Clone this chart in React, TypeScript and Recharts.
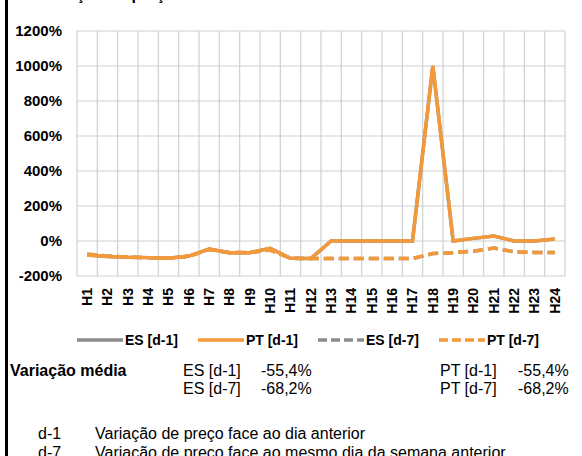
import { CartesianGrid, Line, LineChart, XAxis, YAxis } from "recharts";

const hours = [
  "H1", "H2", "H3", "H4", "H5", "H6", "H7", "H8", "H9", "H10", "H11", "H12",
  "H13", "H14", "H15", "H16", "H17", "H18", "H19", "H20", "H21", "H22", "H23", "H24",
];

// % variation vs previous day (d-1) and vs same weekday last week (d-7)
const esD1 = [-80, -88, -93, -95, -99, -86, -46, -67, -67, -42, -99, -100, 0, 0, 0, 0, 0, 1000, 0, 15, 28, 0, 0, 12];
const ptD1 = [-80, -88, -93, -95, -99, -86, -46, -67, -67, -42, -99, -100, 0, 0, 0, 0, 0, 1000, 0, 15, 28, 0, 0, 12];
const esD7 = [-75, -85, -93, -95, -99, -88, -48, -67, -65, -52, -99, -100, -100, -100, -100, -100, -100, -72, -67, -58, -40, -62, -65, -65];
const ptD7 = [-75, -85, -93, -95, -99, -88, -48, -67, -65, -52, -99, -100, -100, -100, -100, -100, -100, -72, -67, -58, -40, -62, -65, -65];

const yTicks = [-200, 0, 200, 400, 600, 800, 1000, 1200];

const legendItems = [
  { name: "ES [d-1]", color: "#8C8C8C", dashed: false },
  { name: "PT [d-1]", color: "#F4993A", dashed: false },
  { name: "ES [d-7]", color: "#8C8C8C", dashed: true },
  { name: "PT [d-7]", color: "#F4993A", dashed: true },
];

const averages = [
  { label: "ES [d-1]", value: "-55,4%" },
  { label: "ES [d-7]", value: "-68,2%" },
  { label: "PT [d-1]", value: "-55,4%" },
  { label: "PT [d-7]", value: "-68,2%" },
];

const notes = [
  { key: "d-1", text: "Variação de preço face ao dia anterior" },
  { key: "d-7", text: "Variação de preço face ao mesmo dia da semana anterior" },
];

const data = hours.map((hour, i) => ({
  hour,
  esD1: esD1[i],
  ptD1: ptD1[i],
  esD7: esD7[i],
  ptD7: ptD7[i],
}));

const FONT = '"Liberation Sans", Arial, sans-serif';
const ORANGE = "#F4993A";
const GRAY = "#8C8C8C";
const DASH = "10 5";

const W = 582;
const PLOT_LEFT = 77;
const PLOT_RIGHT = 17;
const BAND_PAD = (W - PLOT_LEFT - PLOT_RIGHT) / hours.length / 2;

function HourTick({ x, y, payload }: any) {
  return (
    <text
      x={x}
      y={y}
      transform={`rotate(-90 ${x} ${y})`}
      textAnchor="end"
      dy="0.35em"
      fontFamily={FONT}
      fontSize={14}
      fontWeight="bold"
      fill="#000"
    >
      {payload.value}
    </text>
  );
}

// grid lines sit between categories, like Excel's category axis
const boundaryLines = ({ offset }: any) =>
  Array.from({ length: hours.length + 1 }, (_, i) => offset.left + (i * offset.width) / hours.length);

export default function App() {
  const text = { fontFamily: FONT, color: "#000", position: "absolute" as const, whiteSpace: "nowrap" as const };

  return (
    <div style={{ position: "fixed", left: 0, top: 0, width: W, height: 456, overflow: "hidden", background: "#fff" }}>
      <div style={{ ...text, left: 38, top: -13, fontSize: 16, lineHeight: "16px", fontWeight: "bold" }}>
        Variação de preço
      </div>
      <div style={{ position: "absolute", left: 5, top: 0, width: 3, height: 456, background: "#000" }} />

      <LineChart
        width={W}
        height={330}
        data={data}
        margin={{ top: 31, right: PLOT_RIGHT, bottom: 0, left: 0 }}
        style={{ position: "absolute", left: 0, top: 0 }}
      >
        <CartesianGrid stroke="#D0D0D0" strokeWidth={1.2} verticalCoordinatesGenerator={boundaryLines} />
        <XAxis
          dataKey="hour"
          interval={0}
          height={54}
          padding={{ left: BAND_PAD, right: BAND_PAD }}
          axisLine={false}
          tickLine={false}
          tickSize={0}
          tickMargin={12}
          tick={<HourTick />}
        />
        <YAxis
          width={PLOT_LEFT}
          domain={[-200, 1200]}
          ticks={yTicks}
          interval={0}
          axisLine={false}
          tickLine={false}
          tickSize={0}
          tickMargin={15}
          tickFormatter={(v) => `${v}%`}
          tick={{ fontFamily: FONT, fontSize: 15, fontWeight: "bold", fill: "#000" }}
        />
        <Line dataKey="esD1" stroke={GRAY} strokeWidth={3.5} dot={false} isAnimationActive={false} />
        <Line dataKey="esD7" stroke={GRAY} strokeWidth={3.5} strokeDasharray={DASH} dot={false} isAnimationActive={false} />
        <Line dataKey="ptD7" stroke={ORANGE} strokeWidth={3.5} strokeDasharray={DASH} dot={false} isAnimationActive={false} />
        <Line dataKey="ptD1" stroke={ORANGE} strokeWidth={3.5} dot={false} isAnimationActive={false} />
      </LineChart>

      {/* legend */}
      <div style={{ position: "absolute", left: 77, top: 331, display: "flex", alignItems: "center", gap: 20 }}>
        {legendItems.map((it) => (
          <div key={it.name} style={{ display: "flex", alignItems: "center" }}>
            <svg width={46} height={18}>
              <line
                x1={0}
                y1={9}
                x2={46}
                y2={9}
                stroke={it.color}
                strokeWidth={3.5}
                strokeDasharray={it.dashed ? "9 4" : undefined}
              />
            </svg>
            <span style={{ fontFamily: FONT, fontSize: 14, fontWeight: "bold", marginLeft: 2 }}>{it.name}</span>
          </div>
        ))}
      </div>

      {/* average variation */}
      <div style={{ ...text, left: 10, top: 362, fontSize: 16, lineHeight: "18px", fontWeight: "bold" }}>
        Variação média
      </div>
      {averages.map((a, i) => {
        const left = i < 2 ? 183 : 440;
        const top = 362 + (i % 2) * 18;
        return (
          <div key={a.label}>
            <div style={{ ...text, left, top, fontSize: 16, lineHeight: "18px" }}>{a.label}</div>
            <div style={{ ...text, left: left + 78, top, fontSize: 16, lineHeight: "18px" }}>{a.value}</div>
          </div>
        );
      })}

      {/* footnotes */}
      {notes.map((n, i) => (
        <div key={n.key}>
          <div style={{ ...text, left: 38, top: 425 + i * 19, fontSize: 16, lineHeight: "18px" }}>{n.key}</div>
          <div style={{ ...text, left: 95, top: 425 + i * 19, fontSize: 16, lineHeight: "18px" }}>{n.text}</div>
        </div>
      ))}
    </div>
  );
}
